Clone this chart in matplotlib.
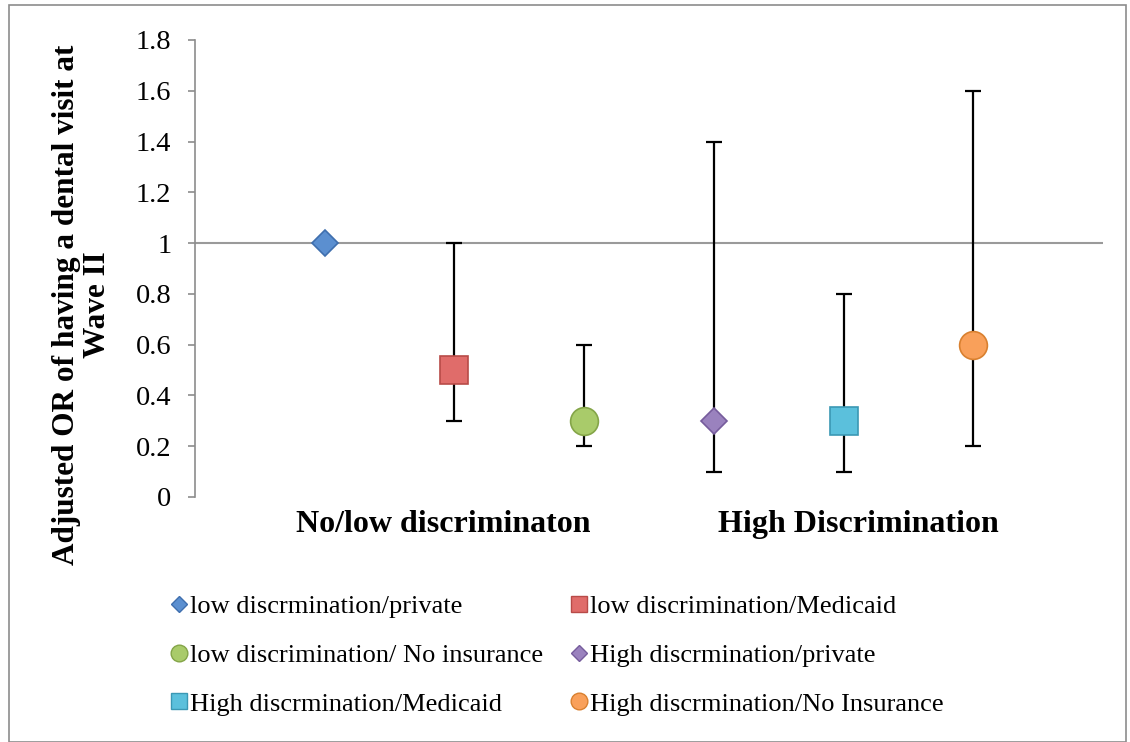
import matplotlib
matplotlib.use("Agg")
import matplotlib.pyplot as plt
from matplotlib.lines import Line2D
from matplotlib.patches import Rectangle

plt.rcParams['font.family'] = ['Liberation Serif', 'DejaVu Serif']

labels = ["low discrmination/private", "low discrimination/Medicaid",
          "low discrimination/ No insurance", "High discrmination/private",
          "High discrmination/Medicaid", "High discrmination/No Insurance"]
odds = [1.0, 0.5, 0.3, 0.3, 0.3, 0.6]
lower = [1.0, 0.3, 0.2, 0.1, 0.1, 0.2]
upper = [1.0, 1.0, 0.6, 1.4, 0.8, 1.6]
has_ci = [False, True, True, True, True, True]
markers = ["D", "s", "o", "D", "s", "o"]
facecolors = ["#5B8FD0", "#E06C6A", "#A9CB6A", "#9A82BE", "#5BC0DC", "#F9A05A"]
edgecolors = ["#3F6FAE", "#B84B48", "#84A548", "#765C9C", "#3B98B4", "#D9802F"]
groups = ["No/low discriminaton", "High Discrimination"]
group_pos = [1.915, 5.115]
yticks = [0, 0.2, 0.4, 0.6, 0.8, 1, 1.2, 1.4, 1.6, 1.8]
ytick_labels = ["0", "0.2", "0.4", "0.6", "0.8", "1", "1.2", "1.4", "1.6", "1.8"]

W, H = 1130, 742
fig = plt.figure(figsize=(W/100, H/100), dpi=100)
ax = fig.add_axes([195/W, 1-497/H, (1103-195)/W, (497-40)/H])

ax.axhline(1, color="#9a9a9a", lw=1.5, zorder=1)

big_ms = {"D": 13.5, "s": 19.5, "o": 20}
small_ms = {"D": 8.5, "s": 11.5, "o": 12}

xs = list(range(1, len(odds)+1))
for i, x in enumerate(xs):
    if has_ci[i]:
        ax.errorbar([x], [odds[i]], yerr=[[odds[i]-lower[i]], [upper[i]-odds[i]]],
                    fmt="none", ecolor="black", elinewidth=1.6, capsize=6,
                    capthick=1.6, zorder=2)
    ax.plot([x], [odds[i]], marker=markers[i], ms=big_ms[markers[i]],
            mfc=facecolors[i], mec=edgecolors[i], mew=1.2, ls="none", zorder=3)

ax.set_xlim(0, 7)
ax.set_ylim(0, 1.8)
ax.set_yticks(yticks)
ax.set_yticklabels(ytick_labels, fontsize=20.5)
ax.set_xticks([])
for s in ["top", "right", "bottom"]:
    ax.spines[s].set_visible(False)
ax.spines["left"].set_color("#8c8c8c")
ax.spines["left"].set_linewidth(1.2)
ax.tick_params(axis="y", direction="out", length=5, color="#8c8c8c", width=1.2, pad=12)

for g, p in zip(groups, group_pos):
    ax.text(p, -0.11, g, ha="center", va="center", fontsize=23, fontweight="bold",
            transform=ax.transData)

fig.text(82/W, 1-305/H, "Adjusted OR of having a dental visit at\nWave II", rotation=90,
         ha="center", va="center", fontsize=22.5, fontweight="bold", linespacing=1.1)

handles = []
for i in range(len(labels)):
    handles.append(Line2D([], [], marker=markers[i], ls="none",
                          ms=small_ms[markers[i]],
                          mfc=facecolors[i], mec=edgecolors[i], mew=1.0))
order = [0, 2, 4, 1, 3, 5]
fig.legend([handles[k] for k in order], [labels[k] for k in order], ncol=2,
           loc="upper left", bbox_to_anchor=(168/W, 1-595/H), frameon=False,
           fontsize=19, handletextpad=0.0, handlelength=0.85, columnspacing=0.9,
           labelspacing=0.95, borderaxespad=0, borderpad=0)

fig.add_artist(Rectangle((9/W, 0.5/H), (1126-9)/W, (737-0.5)/H, transform=fig.transFigure,
                         fill=False, edgecolor="#8c8c8c", lw=1.2))

fig.savefig("out.png", dpi=100)
